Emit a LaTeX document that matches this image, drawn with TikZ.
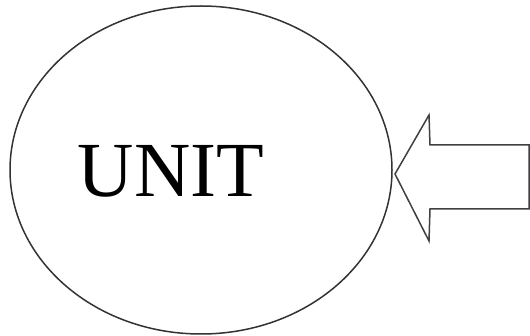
\documentclass[tikz,border=0pt]{standalone}
\usepackage{fontspec}
\setmainfont{Liberation Serif}
\usetikzlibrary{shapes.geometric}
\begin{document}
\begin{tikzpicture}[x=1pt,y=-1pt,
  outline/.style={draw=black!80,line width=1.5pt},
  blockarrow/.style={draw=black!75,line width=1.5pt,line join=miter}]
\useasboundingbox (0,0) rectangle (530,336);
\node[ellipse,outline,minimum width=382pt,minimum height=328pt,inner sep=0pt] (unit) at (201,170) {};
\node[font=\fontsize{78}{78}\selectfont,anchor=base] (label) at (171,197) {UNIT};
\coordinate (tip) at (395,174);
\draw[blockarrow] (tip) -- (429,115) -- (430,145) -- (529,145) -- (529,209) -- (430,209) -- (429,241) -- cycle;
\end{tikzpicture}
\end{document}
